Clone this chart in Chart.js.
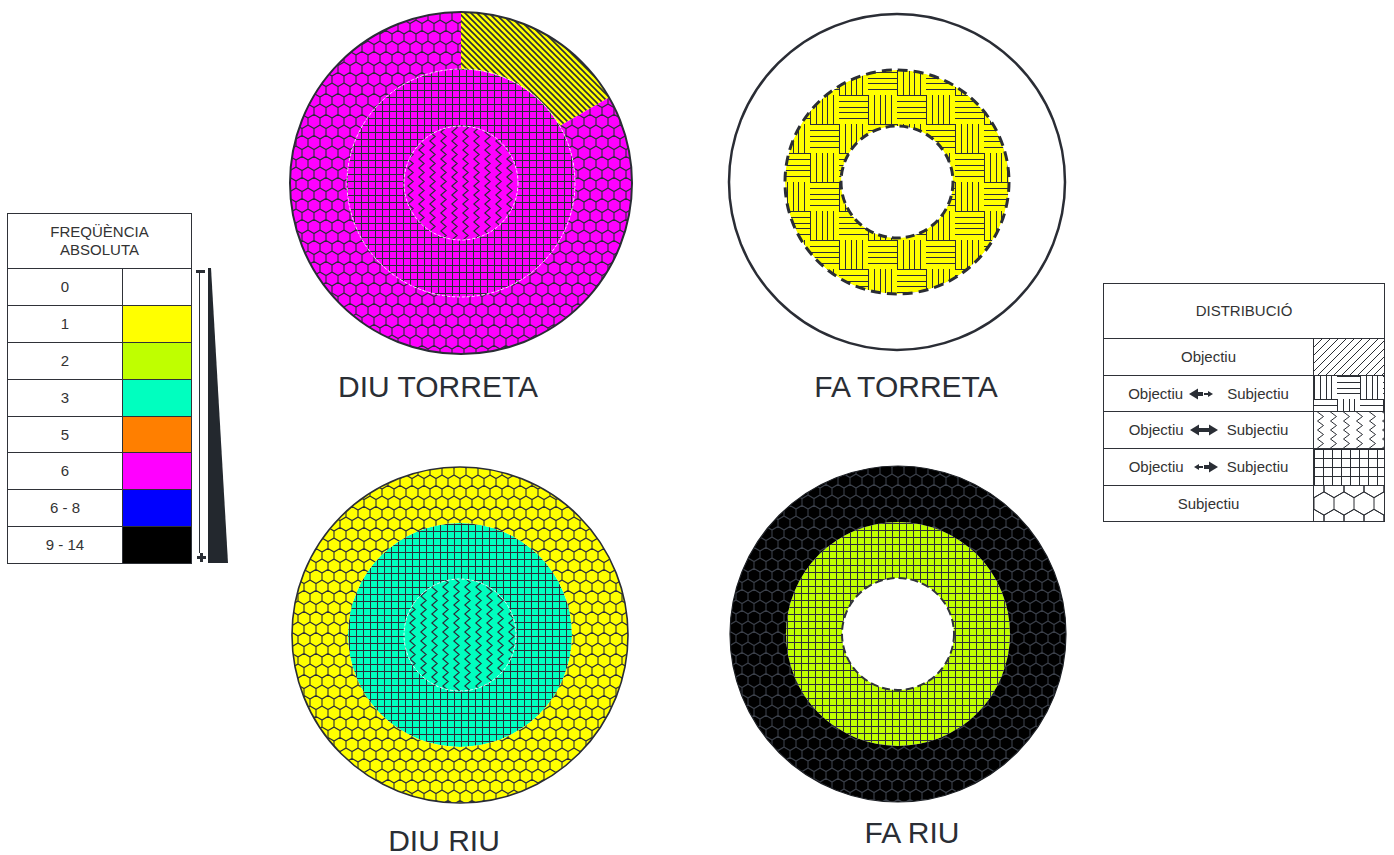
<!DOCTYPE html>
<html>
<head>
<meta charset="utf-8">
<script src="https://cdn.jsdelivr.net/npm/chart.js@4.4.1/dist/chart.umd.min.js"></script>
<style>
  html, body { margin: 0; padding: 0; background: #fff; }
  #page { position: relative; width: 1394px; height: 855px; overflow: hidden;
          font-family: "Liberation Sans", Arial, sans-serif; color: #333; }
  .cell { position: absolute; box-sizing: border-box; border: 1px solid #2f3238;
          display: flex; align-items: center; justify-content: center; text-align: center;
          font-size: 15px; line-height: 18px; white-space: nowrap; }
  .title { position: absolute; font-size: 30px; line-height: 30px; color: #2a2e35;
           white-space: nowrap; transform: translateX(-50%); }
  .chartbox { position: absolute; }
  .row-txt { display: flex; align-items: center; }
  .row-txt svg { display: block; }
</style>
</head>
<body>
<div id="page">
  <div id="llegendaFreq"></div>
  <svg id="escala" width="240" height="570" style="position:absolute;left:0;top:0" xmlns="http://www.w3.org/2000/svg">
    <rect x="196" y="270" width="9" height="3" fill="#2a2e35"/>
    <rect x="199" y="272" width="1" height="281" fill="#2a2e35"/>
    <polygon points="208,268 211,268 228,563 208,563" fill="#23282e"/>
    <rect x="197" y="556" width="9" height="3" fill="#2a2e35"/>
    <rect x="200" y="553" width="3" height="9" fill="#2a2e35"/>
  </svg>
  <div id="llegendaDist"></div>
</div>
<script>
// ---- Freqüència absoluta: classes de la llegenda ----
const freqLabels = ['0', '1', '2', '3', '5', '6', '6 - 8', '9 - 14'];
const freqColors = ['#ffffff', '#ffff00', '#bfff00', '#00ffbf', '#ff7f00', '#ff00ff', '#0000ff', '#000000'];

// ---- Distribució: tipus de trama ----
const distKeys  = ['obj', 'objMes', 'igual', 'subjMes', 'subj'];
const distEnds  = [['Objectiu'], ['Objectiu', 'Subjectiu'], ['Objectiu', 'Subjectiu'], ['Objectiu', 'Subjectiu'], ['Subjectiu']];
const distArrow = [null, 'esq', 'ambdues', 'dre', null];

// ---- Gràfics: anells de fora cap a dins ----
const chartTitles = ['DIU TORRETA', 'FA TORRETA', 'DIU RIU', 'FA RIU'];

const diuTorretaPes  = [[1, 5], [1], [1]];
const diuTorretaFreq = [['1', '6'], ['6'], ['6']];
const diuTorretaDist = [['obj', 'subj'], ['subjMes'], ['igual']];

const faTorretaPes  = [[1], [1], [1]];
const faTorretaFreq = [['0'], ['1'], ['0']];
const faTorretaDist = [[null], ['objMes'], [null]];

const diuRiuPes  = [[1], [1], [1]];
const diuRiuFreq = [['1'], ['3'], ['3']];
const diuRiuDist = [['subj'], ['subjMes'], ['igual']];

const faRiuPes  = [[1], [1], [1]];
const faRiuFreq = [['9 - 14'], ['2'], ['0']];
const faRiuDist = [['subj'], ['subjMes'], [null]];

// ---- Trames ----
function tile(w, h, bg) {
  const c = document.createElement('canvas');
  c.width = w; c.height = h;
  const g = c.getContext('2d');
  g.fillStyle = bg; g.fillRect(0, 0, w, h);
  return [c, g];
}
function hatchTile(bg, step, ink, dir, lw) {
  const [c, g] = tile(step, step, bg);
  g.strokeStyle = ink; g.lineWidth = lw; g.beginPath();
  for (let k = -1; k <= 1; k++) {
    const x = k * step;
    if (dir === '/') { g.moveTo(x - 1, step + 1); g.lineTo(x + step + 1, -1); }
    else { g.moveTo(x - 1, -1); g.lineTo(x + step + 1, step + 1); }
  }
  g.stroke();
  return c;
}
function gridTile(bg, step, ink) {
  const [c, g] = tile(step, step, bg);
  g.fillStyle = ink;
  g.fillRect(0, 0, step, 1);
  g.fillRect(0, 0, 1, step);
  return c;
}
function zigzagTile(bg, w, h, amp, ink, lw) {
  const [c, g] = tile(w, h, bg);
  g.strokeStyle = ink; g.lineWidth = lw; g.lineJoin = 'miter'; g.beginPath();
  for (let k = -1; k <= 5; k++) {
    const y = k * h / 2;
    const x = w / 2 + (k % 2 === 0 ? -amp : amp);
    if (k === -1) g.moveTo(x, y); else g.lineTo(x, y);
  }
  g.stroke();
  return c;
}
function basketTile(bg, q, n, ink, lw) {
  const [c, g] = tile(2 * q, 2 * q, bg);
  g.fillStyle = ink;
  const squares = [[0, 0, 'v'], [q, 0, 'h'], [0, q, 'h'], [q, q, 'v']];
  for (const [x0, y0, o] of squares) {
    for (let i = 0; i < n; i++) {
      const p = Math.round(i * q / n);
      if (o === 'v') g.fillRect(x0 + p, y0, lw, q);
      else g.fillRect(x0, y0 + p, q, lw);
    }
  }
  return c;
}
function hexTile(bg, W, ink, lw) {
  const H = Math.round(W * Math.sqrt(3));
  const s = H / 3;
  const [c, g] = tile(W, H, bg);
  g.strokeStyle = ink; g.lineWidth = lw; g.beginPath();
  for (const [cx, cy] of [[0, 0], [W, 0], [W / 2, H / 2], [0, H], [W, H]]) {
    g.moveTo(cx, cy - s);
    g.lineTo(cx + W / 2, cy - s / 2);
    g.lineTo(cx + W / 2, cy + s / 2);
    g.lineTo(cx, cy + s);
    g.lineTo(cx - W / 2, cy + s / 2);
    g.lineTo(cx - W / 2, cy - s / 2);
    g.closePath();
  }
  g.stroke();
  return c;
}

// trama de cada tipus dins dels gràfics
function chartTile(key, bg, ink) {
  switch (key) {
    case 'obj':     return hatchTile(bg, 6, ink, '\\', 1.6);
    case 'objMes':  return basketTile(bg, 29, 5, ink, 1);
    case 'igual':   return zigzagTile(bg, 11, 9, 2.6, ink, 1.2);
    case 'subjMes': return gridTile(bg, 7, ink);
    case 'subj':    return hexTile(bg, 12, ink, 1.1);
  }
}
// trama de cada tipus a la llegenda
function legendTile(key) {
  const bg = '#ffffff', ink = '#2a2d33';
  switch (key) {
    case 'obj':     return hatchTile(bg, 8, ink, '/', 1);
    case 'objMes':  return basketTile(bg, 23, 4, ink, 1);
    case 'igual':   return zigzagTile(bg, 13, 9, 3, ink, 1);
    case 'subjMes': return gridTile(bg, 9, ink);
    case 'subj':    return hexTile(bg, 20, ink, 1);
  }
}

const helperCtx = document.createElement('canvas').getContext('2d');
function fillFor(freq, dist) {
  const color = freqColors[freqLabels.indexOf(freq)];
  if (!dist) return color;
  const ink = color === '#000000' ? '#3b404a' : '#2c2e38';
  return helperCtx.createPattern(chartTile(dist, color, ink), 'repeat');
}

// ---- Vores dels anells ----
const edgePlugin = {
  id: 'vores',
  afterDatasetsDraw(chart, args, opts) {
    const ctx = chart.ctx;
    for (const e of (opts.edges || [])) {
      const arc = chart.getDatasetMeta(e.ring).data[0];
      const p = arc.getProps(['x', 'y', 'outerRadius', 'innerRadius'], true);
      const rad = e.side === 'outer' ? p.outerRadius : p.innerRadius;
      ctx.save();
      ctx.beginPath();
      ctx.arc(p.x, p.y, rad, 0, Math.PI * 2);
      ctx.lineWidth = e.width;
      ctx.strokeStyle = e.color;
      ctx.setLineDash(e.dash || []);
      ctx.stroke();
      ctx.restore();
    }
  }
};

const dark = '#2a2d35';
const whiteDash = { color: 'rgba(255,255,255,0.85)', width: 1, dash: [3, 2] };
const charts = [
  { pes: diuTorretaPes, freq: diuTorretaFreq, dist: diuTorretaDist,
    cx: 461, cy: 182.5, r: 171, titleX: 438, titleTop: 371.5,
    edges: [
      { ring: 0, side: 'outer', color: dark, width: 2 },
      { ring: 1, side: 'outer', ...whiteDash },
      { ring: 2, side: 'outer', ...whiteDash }
    ] },
  { pes: faTorretaPes, freq: faTorretaFreq, dist: faTorretaDist,
    cx: 897, cy: 182, r: 168, titleX: 906, titleTop: 371.5,
    edges: [
      { ring: 0, side: 'outer', color: dark, width: 2.5 },
      { ring: 1, side: 'outer', color: dark, width: 3, dash: [10, 6] },
      { ring: 1, side: 'inner', color: dark, width: 3, dash: [9, 5] }
    ] },
  { pes: diuRiuPes, freq: diuRiuFreq, dist: diuRiuDist,
    cx: 460, cy: 635, r: 168, titleX: 444, titleTop: 826,
    edges: [
      { ring: 0, side: 'outer', color: dark, width: 1.6 },
      { ring: 2, side: 'outer', ...whiteDash }
    ] },
  { pes: faRiuPes, freq: faRiuFreq, dist: faRiuDist,
    cx: 897.5, cy: 634, r: 168, titleX: 912, titleTop: 818,
    edges: [
      { ring: 0, side: 'outer', color: '#1c1f24', width: 1.2 },
      { ring: 2, side: 'outer', color: '#30333a', width: 2, dash: [8, 4] }
    ] }
];

const page = document.getElementById('page');
const pad = 6;
charts.forEach((c, idx) => {
  const box = document.createElement('div');
  box.className = 'chartbox';
  box.style.left = (c.cx - c.r - pad) + 'px';
  box.style.top = (c.cy - c.r - pad) + 'px';
  box.style.width = (2 * (c.r + pad)) + 'px';
  box.style.height = (2 * (c.r + pad)) + 'px';
  const cv = document.createElement('canvas');
  box.appendChild(cv);
  page.appendChild(box);

  new Chart(cv, {
    type: 'pie',
    data: {
      datasets: c.pes.map((vals, i) => ({
        data: vals,
        backgroundColor: vals.map((v, j) => fillFor(c.freq[i][j], c.dist[i][j])),
        borderWidth: 0,
        hoverOffset: 0
      }))
    },
    options: {
      responsive: true,
      maintainAspectRatio: false,
      animation: false,
      events: [],
      layout: { padding: pad },
      plugins: { legend: { display: false }, tooltip: { enabled: false }, vores: { edges: c.edges } }
    },
    plugins: [edgePlugin]
  });

  const t = document.createElement('div');
  t.className = 'title';
  t.textContent = chartTitles[idx];
  t.style.left = c.titleX + 'px';
  t.style.top = c.titleTop + 'px';
  page.appendChild(t);
});

// ---- Llegenda de freqüència ----
function addCell(parent, x0, y0, x1, y1, html, bg) {
  const d = document.createElement('div');
  d.className = 'cell';
  d.style.left = x0 + 'px'; d.style.top = y0 + 'px';
  d.style.width = (x1 - x0 + 1) + 'px'; d.style.height = (y1 - y0 + 1) + 'px';
  if (html) d.innerHTML = html;
  if (bg) d.style.background = bg;
  parent.appendChild(d);
  return d;
}
const lf = document.getElementById('llegendaFreq');
addCell(lf, 7, 213, 191, 268, 'FREQÜÈNCIA<br>ABSOLUTA');
freqLabels.forEach((lab, i) => {
  const y0 = Math.round(268 + i * 36.875), y1 = Math.round(268 + (i + 1) * 36.875);
  addCell(lf, 7, y0, 122, y1, lab);
  addCell(lf, 122, y0, 191, y1, '', freqColors[i]);
});

// ---- Llegenda de distribució ----
function arrowSvg(kind) {
  const leftBig = '<polygon points="0,6 9,0.5 9,11.5"/><rect x="9" y="4" width="5" height="4"/>';
  const leftSmall = '<polygon points="4,6 9,3 9,9"/><rect x="9" y="5" width="4" height="2"/>';
  const rightBig = '<rect x="14" y="4" width="5" height="4"/><polygon points="19,0.5 28,6 19,11.5"/>';
  const rightSmall = '<rect x="15" y="5" width="4" height="2"/><polygon points="19,3 24,6 19,9"/>';
  const body = kind === 'esq' ? leftBig + rightSmall : kind === 'dre' ? leftSmall + rightBig : leftBig + rightBig;
  return '<svg width="28" height="12" viewBox="0 0 28 12" fill="#2a2e35" xmlns="http://www.w3.org/2000/svg">' + body + '</svg>';
}
const ld = document.getElementById('llegendaDist');
addCell(ld, 1103, 283, 1384, 338, 'DISTRIBUCIÓ');
const distRows = [338, 375, 411, 448, 485, 521];
distKeys.forEach((key, i) => {
  const ends = distEnds[i];
  let html;
  if (ends.length === 1) html = ends[0];
  else {
    const gapR = distArrow[i] === 'esq' ? 10 : 9;
    html = '<span class="row-txt"><span>' + ends[0] + '</span><span style="margin:0 ' + gapR + 'px 0 6px">' +
           arrowSvg(distArrow[i]) + '</span><span>' + ends[1] + '</span></span>';
  }
  addCell(ld, 1103, distRows[i], 1313, distRows[i + 1], html);
  const pc = addCell(ld, 1313, distRows[i], 1384, distRows[i + 1], '');
  pc.style.backgroundImage = 'url(' + legendTile(key).toDataURL() + ')';
  pc.style.backgroundRepeat = 'repeat';
});
</script>
</body>
</html>
